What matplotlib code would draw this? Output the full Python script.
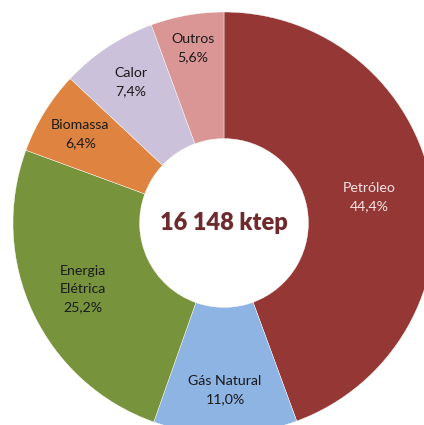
import numpy as np
from matplotlib import pyplot as plt

labels = ['Petróleo', 'Gás Natural', 'Energia\nElétrica', 'Biomassa', 'Calor', 'Outros']
shares = [44.4, 11.0, 25.2, 6.4, 7.4, 5.6]
pct_text = ['44,4%', '11,0%', '25,2%', '6,4%', '7,4%', '5,6%']
total = '16 148 ktep'

colors = ['#953735', '#8EB4E3', '#77933C', '#DE8440', '#CCC1DA', '#D99694']
text_colors = ['#F4E4E4', '#1a1a1a', '#1a1a1a', '#1a1a1a', '#1a1a1a', '#1a1a1a']
label_r = [0.70, 0.79, 0.74, 0.80, 0.80, 0.84]

plt.rcParams['font.family'] = ['Lato', 'DejaVu Sans']

fig = plt.figure(figsize=(4.24, 4.25), dpi=100)
ax = fig.add_axes([13/424, -9/425, 422/424, 422/425])
wedges, _ = ax.pie(shares, colors=colors, startangle=90, counterclock=False,
                   radius=1.0, wedgeprops=dict(width=0.6, edgecolor='white', linewidth=0.3))

for w, lab, pct, tc, r in zip(wedges, labels, pct_text, text_colors, label_r):
    ang = np.deg2rad((w.theta1 + w.theta2) / 2)
    ax.text(r*np.cos(ang), r*np.sin(ang), lab + '\n' + pct, ha='center', va='center',
            fontsize=10.2, color=tc, linespacing=1.6)

ax.text(0, 0, total, ha='center', va='center', fontsize=17, fontweight='heavy', color='#6E2A2C')
ax.set_xlim(-1, 1)
ax.set_ylim(-1, 1)
ax.set_aspect('equal')
ax.axis('off')

fig.savefig('out.png', dpi=100)
